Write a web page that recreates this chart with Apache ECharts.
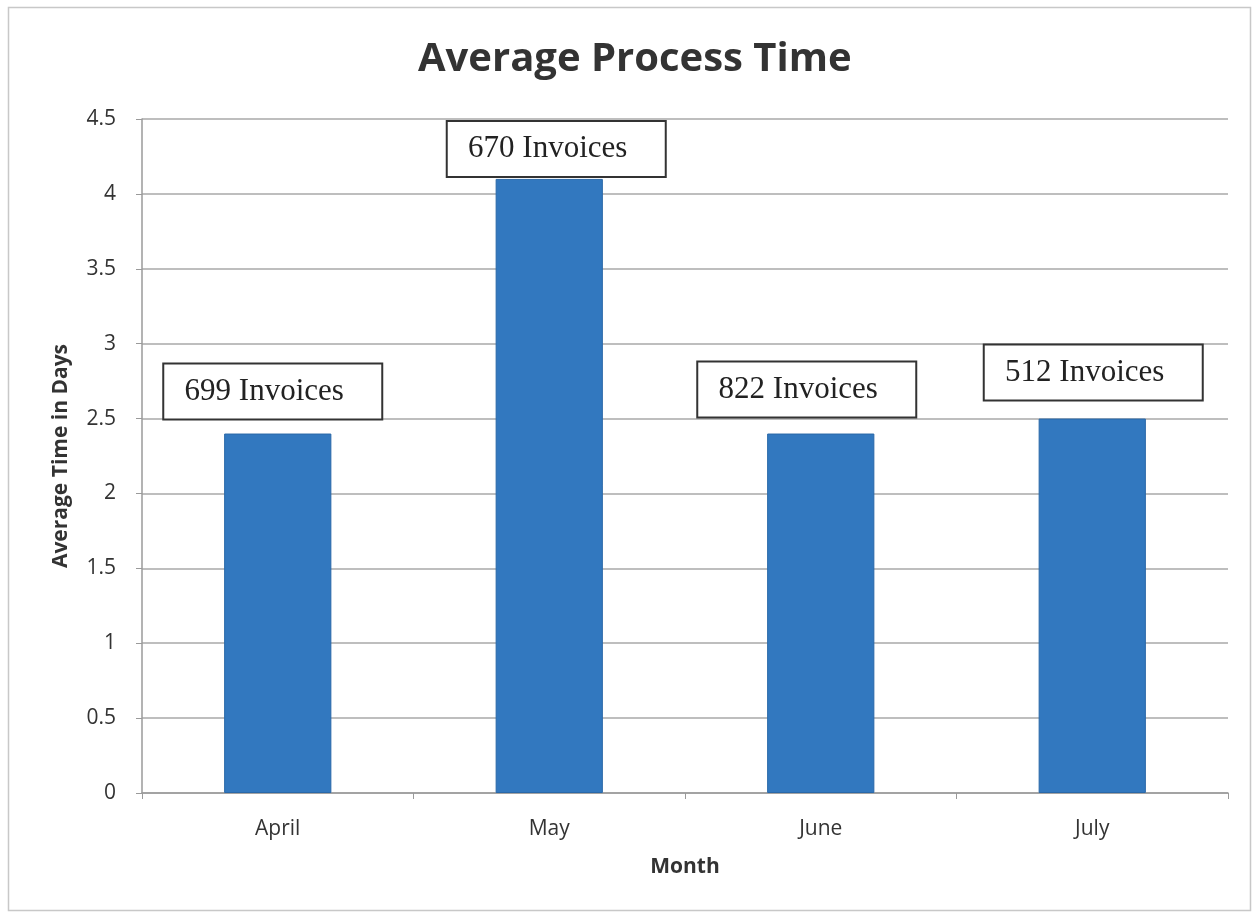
<!DOCTYPE html>
<html>
<head>
<meta charset="utf-8">
<script src="https://cdn.jsdelivr.net/npm/echarts@6/dist/echarts.min.js"></script>
<style>
  html, body { margin: 0; padding: 0; background: #ffffff; }
  #chart { width: 1255px; height: 913px; }
</style>
</head>
<body>
<div id="chart"></div>
<script>
// Monthly averages and invoice counts
const months = ['April', 'May', 'June', 'July'];
const avgDays = [2.4, 4.1, 2.4, 2.5];
const invoiceCounts = [699, 670, 822, 512];
const yTicks = { min: 0, max: 4.5, interval: 0.5 };

// Nudges for the callout boxes above each bar: [dx, dy]
const calloutNudge = [[-5, -15], [7, -3], [-14, -17], [1, -19]];

const chart = echarts.init(document.getElementById('chart'), null, { renderer: 'canvas' });

const seriesData = avgDays.map((v, i) => ({
  value: v,
  label: {
    offset: calloutNudge[i],
    formatter: invoiceCounts[i] + ' Invoices'
  }
}));

chart.setOption({
  backgroundColor: '#ffffff',
  animation: false,
  title: {
    text: 'Average Process Time',
    left: 418,
    top: 40,
    padding: 0,
    textStyle: {
      fontFamily: 'Open Sans',
      fontWeight: 'bold',
      fontSize: 40,
      color: '#333333'
    }
  },
  graphic: [{
    type: 'rect',
    shape: { x: 8.5, y: 7.5, width: 1242, height: 903 },
    style: { fill: 'none', stroke: '#c8c8c8', lineWidth: 1.5 },
    silent: true
  }],
  grid: { left: 142, right: 27, top: 119, bottom: 120 },
  xAxis: {
    type: 'category',
    data: months,
    name: 'Month',
    nameLocation: 'middle',
    nameGap: 64,
    nameTextStyle: { fontFamily: 'Open Sans', fontWeight: 'bold', fontSize: 21, color: '#333333' },
    axisLine: { lineStyle: { color: '#9a9a9a', width: 1.5 } },
    axisTick: { show: true, length: 6, lineStyle: { color: '#9a9a9a' } },
    axisLabel: { margin: 26, fontFamily: 'Open Sans', fontSize: 21, color: '#333333' }
  },
  yAxis: {
    type: 'value',
    min: yTicks.min,
    max: yTicks.max,
    interval: yTicks.interval,
    name: 'Average Time in Days',
    nameLocation: 'middle',
    nameGap: 70,
    nameRotate: 90,
    nameTextStyle: { fontFamily: 'Open Sans', fontWeight: 'bold', fontSize: 21, color: '#333333' },
    axisLine: { show: true, lineStyle: { color: '#9a9a9a', width: 1.5 } },
    axisTick: { show: true, length: 6, lineStyle: { color: '#9a9a9a' } },
    axisLabel: {
      margin: 26,
      fontFamily: 'Open Sans',
      fontSize: 21,
      color: '#333333',
      formatter: v => String(v)
    },
    splitLine: { lineStyle: { color: '#a8a8a8', width: 1.5 } }
  },
  series: [{
    type: 'bar',
    data: seriesData,
    barWidth: '39.5%',
    itemStyle: { color: '#3278bf', borderColor: '#2a68a8', borderWidth: 1 },
    label: {
      show: true,
      position: 'top',
      distance: 0,
      fontFamily: 'Liberation Serif',
      fontSize: 31,
      color: '#222222',
      backgroundColor: '#ffffff',
      borderColor: '#333333',
      borderWidth: 2,
      width: 166,
      height: 54,
      lineHeight: 54,
      align: 'center',
      padding: [0, 34, 0, 17]
    }
  }]
});
</script>
</body>
</html>
